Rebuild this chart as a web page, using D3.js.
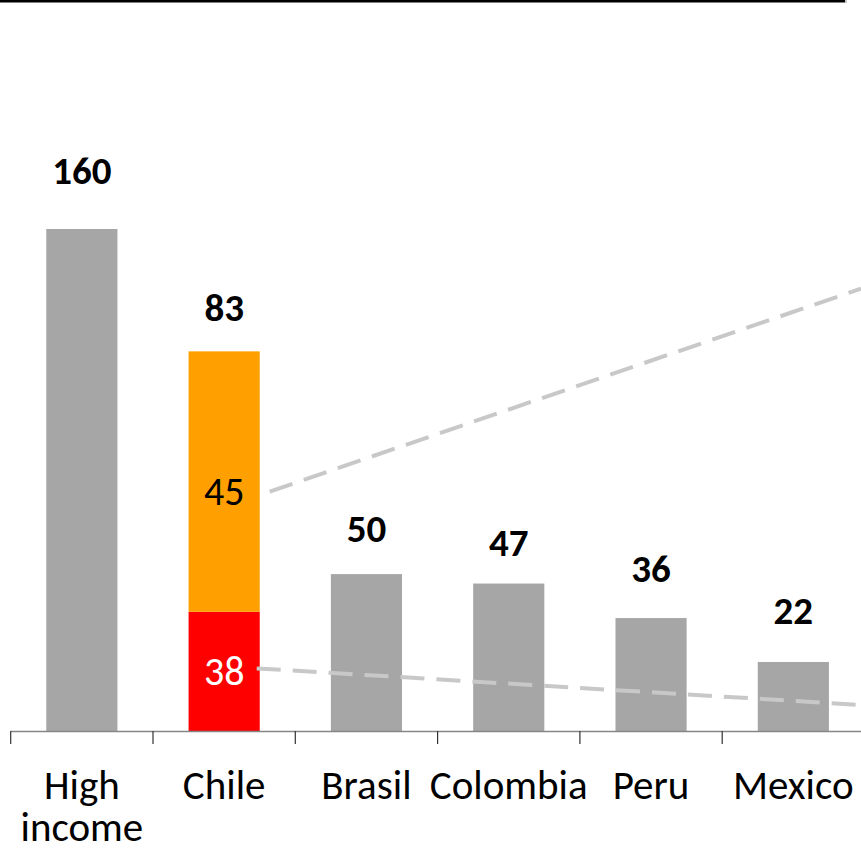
<!DOCTYPE html>
<html><head><meta charset="utf-8">
<script src="https://cdn.jsdelivr.net/npm/d3@7"></script>
<style>body{margin:0;background:#fff} svg{display:block}</style>
</head><body><svg id="c" width="861" height="852"></svg>
<script>
const categories = ["High income","Chile","Brasil","Colombia","Peru","Mexico"];
const totals = [160, 83, 50, 47, 36, 22];
const chileLower = 38;        // red segment
const chileUpperLabel = 45;   // orange segment label
const chileUpperDrawn = 83;   // orange segment height as drawn in the picture
const connectorEnds = [141, 8.3]; // value at right edge reached by dashed connectors
const labelGap = [45, 30, 32, 28, 36, 38];

const W = 861, H = 852;
const FONT = "Carlito, Calibri, Lato, sans-serif";
const svg = d3.select("#c");

const x = d3.scaleBand().domain(categories).range([10.7, 864.5]).paddingInner(0.5).paddingOuter(0.25);
const y = d3.scaleLinear().domain([0, 160]).range([731, 229]);
const bw = x.bandwidth();

// top rule
svg.append("line").attr("x1", 0).attr("x2", 845).attr("y1", 1).attr("y2", 1)
  .attr("stroke", "#000").attr("stroke-width", 3);
svg.append("line").attr("x1", 846).attr("x2", 846).attr("y1", 0).attr("y2", 3)
  .attr("stroke", "#999").attr("stroke-width", 1);

// gray bars
const gray = categories.map((c, i) => ({c, v: totals[i], i})).filter(d => d.c !== "Chile");
svg.selectAll("rect.g").data(gray).join("rect").attr("class", "g")
  .attr("x", d => x(d.c)).attr("width", bw)
  .attr("y", d => y(d.v)).attr("height", d => y(0) - y(d.v))
  .attr("fill", "#a6a6a6");

// Chile stacked
const segs = [
  {v0: 0, v1: chileLower, fill: "#ff0000"},
  {v0: chileLower, v1: chileLower + chileUpperDrawn, fill: "#ffa000"}
];
svg.selectAll("rect.s").data(segs).join("rect").attr("class", "s")
  .attr("x", x("Chile")).attr("width", bw)
  .attr("y", d => y(d.v1)).attr("height", d => y(d.v0) - y(d.v1))
  .attr("fill", d => d.fill);

const cx = x("Chile") + bw / 2;
svg.append("text").attr("x", cx).attr("y", (y(segs[0].v0) + y(segs[0].v1)) / 2 + 14)
  .attr("text-anchor", "middle").attr("fill", "#fff")
  .style("font-family", FONT).style("font-size", "40px").text(chileLower);
svg.append("text").attr("x", cx).attr("y", (y(segs[1].v0) + y(segs[1].v1)) / 2 + 23)
  .attr("text-anchor", "middle").attr("fill", "#000")
  .style("font-family", FONT).style("font-size", "40px").text(chileUpperLabel);

// dashed connectors
const right = x("Chile") + bw;
const conns = [
  {x1: right + 10, y1: (y(segs[1].v0) + y(segs[1].v1)) / 2 + 10, v: connectorEnds[0]},
  {x1: right - 3, y1: (y(segs[0].v0) + y(segs[0].v1)) / 2 - 3, v: connectorEnds[1]}
];
svg.selectAll("line.cn").data(conns).join("line").attr("class", "cn")
  .attr("x1", d => d.x1).attr("y1", d => d.y1)
  .attr("x2", W).attr("y2", d => y(d.v))
  .attr("stroke", "#c8c8c8").attr("stroke-width", 4).attr("stroke-dasharray", "24 12");

// value labels
svg.selectAll("text.v").data(categories).join("text").attr("class", "v")
  .attr("x", d => x(d) + bw / 2)
  .attr("y", (d, i) => (d === "Chile" ? y(chileLower + chileUpperDrawn) : y(totals[i])) - labelGap[i])
  .attr("text-anchor", "middle").attr("fill", "#000")
  .style("font-family", FONT).style("font-size", "39px").style("font-weight", "bold")
  .text((d, i) => totals[i]);

// axis
svg.append("line").attr("x1", x.range()[0]).attr("x2", W).attr("y1", y(0) + 0.5).attr("y2", y(0) + 0.5)
  .attr("stroke", "#868686").attr("stroke-width", 1.3);
const tickX = categories.map((c, i) => x.range()[0] + i * x.step());
svg.selectAll("line.t").data(tickX).join("line").attr("class", "t")
  .attr("x1", d => d).attr("x2", d => d).attr("y1", y(0)).attr("y2", y(0) + 13)
  .attr("stroke", "#333").attr("stroke-width", 1.2);

// category labels
const lab = svg.selectAll("text.c").data(categories).join("text").attr("class", "c")
  .attr("x", d => x(d) + bw / 2).attr("y", 799)
  .attr("text-anchor", "middle").attr("fill", "#000")
  .style("font-family", FONT).style("font-size", "41px");
lab.each(function(d) {
  const t = d3.select(this);
  const words = d === "High income" ? ["High", "income"] : [d];
  words.forEach((w, k) => t.append("tspan").attr("x", x(d) + bw / 2).attr("dy", k ? 42 : 0).text(w));
});
</script></body></html>
